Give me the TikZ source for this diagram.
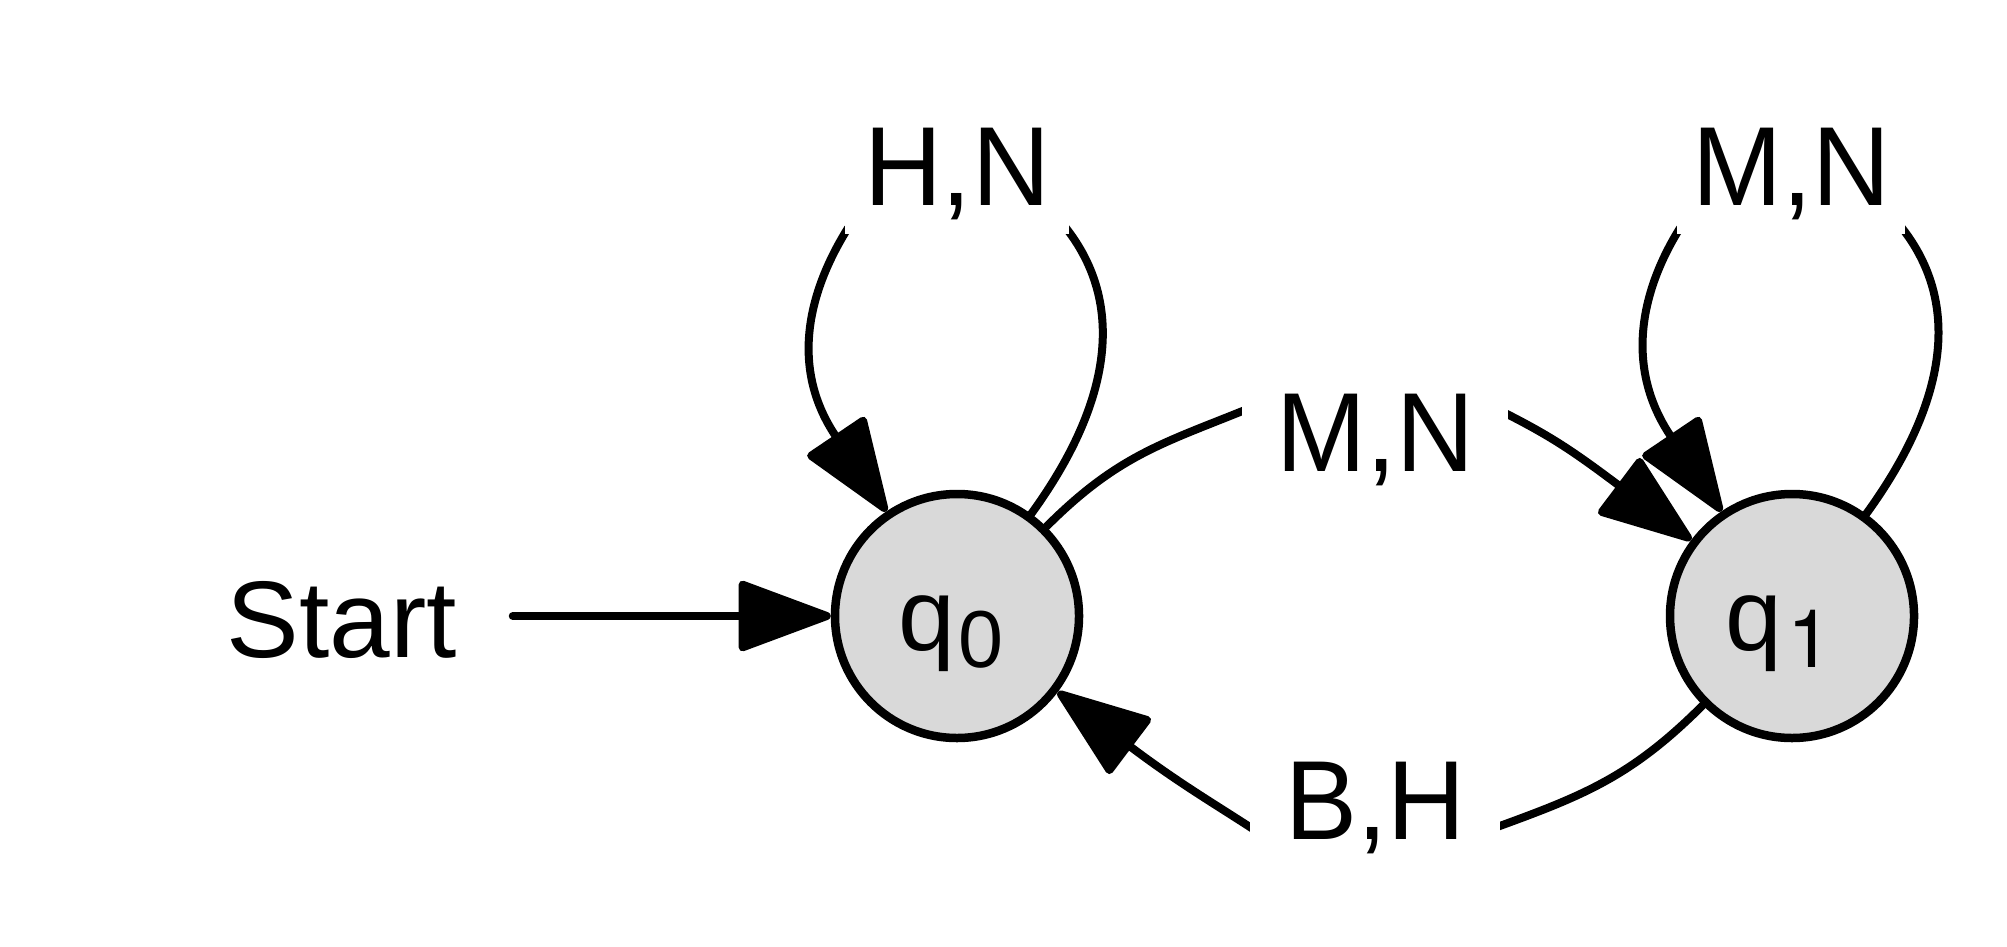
\documentclass[tikz,border=0pt]{standalone}
\usepackage{fontspec}
\setmainfont{Liberation Sans}
\newfontfamily\subdigits{TeX Gyre Heros}
\usepackage{graphicx}
\usetikzlibrary{arrows.meta}
\definecolor{statefill}{RGB}{217,217,217}
\newcommand{\lblsq}[1]{\scalebox{0.96}[1]{#1}}
\begin{document}
\begin{tikzpicture}[
  state/.style={circle, draw=black, line width=0.085cm, fill=statefill, minimum size=2.44cm, inner sep=0pt, text height=0.68cm, text depth=0cm},
  edge/.style={draw=black, line width=0.08cm, line join=round, line cap=round, -{Triangle[length=1cm,width=0.72cm,round]}},
  lbl/.style={fill=white, inner xsep=0pt, inner ysep=0.12cm, text height=0.80cm, text depth=0.17cm, font=\fontsize{32pt}{35pt}\selectfont, anchor=base}
]
\useasboundingbox (0,0) rectangle (20.07,9.46);

% states
\node[state] (q0) at (9.57,3.30) {\fontsize{29pt}{31pt}\selectfont q\kern0.03cm\raisebox{-0.17cm}{\fontsize{23pt}{25pt}\selectfont 0}\kern0.12cm};
\node[state] (q1) at (17.92,3.30) {\fontsize{29pt}{31pt}\selectfont q\kern0.06cm\raisebox{-0.17cm}{\fontsize{23pt}{25pt}\subdigits\selectfont 1}\kern0.26cm};

% start
\node[font=\fontsize{31pt}{34pt}\selectfont, inner xsep=0.55cm, inner ysep=0pt, text height=0.82cm, text depth=0cm] (start) at (3.42,3.30) {Start};

% hidden via points (under the labels)
\coordinate (hnR) at (10.66,7.18);
\coordinate (hnL) at (8.48,7.18);
\coordinate (mntR) at (19.02,7.18);
\coordinate (mntL) at (16.80,7.18);
\coordinate (mnL) at (12.45,5.36);
\coordinate (mnR) at (15.05,5.33);
\coordinate (bhR) at (14.97,1.19);
\coordinate (bhL) at (12.53,1.17);

% edges
\draw[edge] (start) -- (q0);
\draw[edge] (q0) to[out=54,in=-52] (hnR) -- (hnL)
  to[out=238,in=124,out distance=0.65cm,in distance=1.8cm] (q0);
\draw[edge] (q1) to[out=54,in=-52] (mntR) -- (mntL)
  to[out=238,in=124,out distance=0.65cm,in distance=1.8cm] (q1);
\draw[edge] (q0) to[out=45,in=202,out distance=1.0cm] (mnL) -- (mnR)
  to[out=-27,in=143,out distance=0.5cm,in distance=1.5cm] (q1);
\draw[edge] (q1) to[out=225,in=20,out distance=1.0cm] (bhR) -- (bhL)
  to[out=147,in=-37,out distance=0.5cm,in distance=1.5cm] (q0);

% labels
\node[lbl, minimum width=2.24cm] (lHN) at (9.57,7.41) {\lblsq{H,N}};
\node[lbl, minimum width=2.28cm] (lMNt) at (17.91,7.41) {\lblsq{M,N}};
\node[lbl, minimum width=2.66cm] (lMN) at (13.75,4.75) {\lblsq{M,N}};
\node[lbl, minimum width=2.50cm] (lBH) at (13.75,1.07) {\lblsq{B,H}};
\end{tikzpicture}
\end{document}
